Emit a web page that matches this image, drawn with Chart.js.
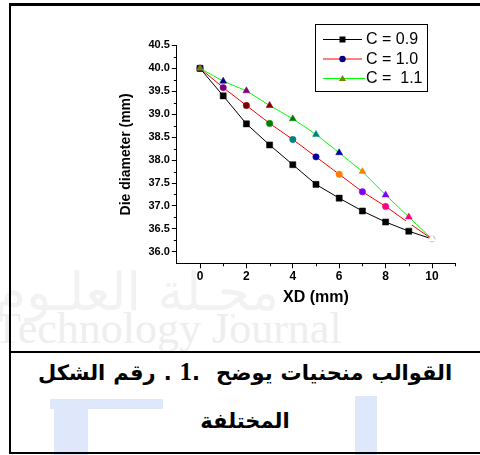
<!DOCTYPE html>
<html>
<head>
<meta charset="utf-8">
<script src="https://cdn.jsdelivr.net/npm/chart.js@4.4.1/dist/chart.umd.min.js"></script>
<style>
html,body{margin:0;padding:0;background:#fff;}
body{width:480px;height:455px;overflow:hidden;position:relative;font-family:Arial,"Liberation Sans",sans-serif;}
.abs{position:absolute;}
#wmAr{left:-6px;top:262px;font:52px "DejaVu Sans";color:#f2f2f2;white-space:nowrap;direction:rtl;}
#wmEn{left:-6px;top:303px;font:44px "Liberation Serif";color:#eeeeee;white-space:nowrap;}
.blue{background:#dfe7fb;}
#frame{left:9px;top:3px;width:480px;height:446px;border-left:2px solid #000;border-top:3px solid #000;border-bottom:2px solid #000;}
#divider{left:9px;top:351px;width:480px;height:2px;background:#000;}
#chart{left:0;top:0;}
.cap{left:10px;width:470px;display:flex;flex-direction:row;justify-content:center;align-items:baseline;font-weight:bold;font-family:"DejaVu Sans",sans-serif;font-size:21px;white-space:nowrap;color:#000;direction:ltr;}
.cap span{display:block;margin:0 4px;}
.cap span.num{font-family:"Liberation Serif",serif;font-size:25px;margin-right:0;}
.cap span.dot{margin-left:0;margin-right:12px;}
</style>
</head>
<body>
<div id="wmAr" class="abs">مجـلة العلـوم</div>
<div id="wmEn" class="abs">Technology Journal</div>
<div class="abs blue" style="left:50px;top:399px;width:113px;height:10px;"></div>
<div class="abs blue" style="left:54px;top:409px;width:34px;height:46px;"></div>
<div class="abs blue" style="left:355px;top:396px;width:22px;height:59px;"></div>
<div id="frame" class="abs"></div>
<div id="divider" class="abs"></div>
<div id="cap1" class="abs cap" style="top:356px;line-height:32px;">
<span>الشكل</span>
<span>رقم</span>
<span>.</span>
<span class="num">1</span>
<span class="dot">.</span>
<span>يوضح</span>
<span>منحنيات</span>
<span>القوالب</span>
</div>
<div id="cap2" class="abs cap" style="top:405px;line-height:32px;">
<span>المختلفة</span>
</div>
<canvas id="chart" class="abs" width="480" height="455"></canvas>
<script>
// ---- data ----
const xValues = [0, 1, 2, 3, 4, 5, 6, 7, 8, 9, 10];
const c09 = [40.00, 39.40, 38.79, 38.33, 37.90, 37.47, 37.17, 36.89, 36.65, 36.45, 36.28];
const c10 = [40.00, 39.58, 39.19, 38.80, 38.45, 38.07, 37.69, 37.31, 36.99, 36.63, 36.28];
const c11 = [40.00, 39.72, 39.51, 39.19, 38.90, 38.56, 38.16, 37.75, 37.24, 36.76, 36.28];
const seriesLabels = ['C = 0.9', 'C = 1.0', 'C =  1.1'];
const xTicks = [0, 2, 4, 6, 8, 10];
const xMinorTicks = [1, 3, 5, 7, 9, 11];
const yTicks = [36.0, 36.5, 37.0, 37.5, 38.0, 38.5, 39.0, 39.5, 40.0, 40.5];
const yMinorTicks = [36.25, 36.75, 37.25, 37.75, 38.25, 38.75, 39.25, 39.75, 40.25];
const xTitle = 'XD (mm)';
const yTitle = 'Die diameter (mm)';

// ---- styles ----
const lineColors = ['#000000', '#ff0000', '#00ff00'];
const pointShapes = ['rect', 'circle', 'triangle'];
const pointRadii = [4.3, 3.2, 4.0];
const sqColors = ['#000000','#000000','#000000','#000000','#000000','#000000','#000000','#000000','#000000','#000000','#ffffff'];
const ciColors = ['#000080','#800080','#800000','#008000','#008080','#0000a0','#ff8000','#8000ff','#ff0080','#ffffff','#c0c0c0'];
const trColors = ['#808000','#000080','#800080','#800000','#008000','#008080','#0000a0','#ff8000','#8000ff','#ff0080','#ffffff'];
const pointColorSets = [sqColors, ciColors, trColors];
const legendMarkerColors = ['#000000', '#000080', '#808000'];

const series = [c09, c10, c11];
const datasets = series.map((vals, i) => ({
  label: seriesLabels[i],
  data: xValues.map((x, j) => ({x: x, y: vals[j]})),
  borderColor: lineColors[i],
  borderWidth: 1,
  pointStyle: pointShapes[i],
  pointRadius: pointRadii[i],
  pointHoverRadius: pointRadii[i],
  pointBackgroundColor: pointColorSets[i],
  pointBorderColor: pointColorSets[i],
  pointBorderWidth: 0.5,
  tension: 0,
  fill: false,
  order: 3 - i
}));

const minorTicksPlugin = {
  id: 'minorTicks',
  afterDraw(chart) {
    const {ctx, scales: {x, y}} = chart;
    ctx.save();
    ctx.strokeStyle = '#000';
    ctx.lineWidth = 1;
    ctx.beginPath();
    xMinorTicks.forEach(v => {
      const px = Math.round(x.getPixelForValue(v)) + 0.5;
      ctx.moveTo(px, y.bottom);
      ctx.lineTo(px, y.bottom + 3);
    });
    yMinorTicks.forEach(v => {
      const py = Math.round(y.getPixelForValue(v)) + 0.5;
      ctx.moveTo(x.left, py);
      ctx.lineTo(x.left - 3, py);
    });
    ctx.stroke();
    ctx.restore();
  }
};

function drawMarker(ctx, shape, cx, cy, color) {
  ctx.fillStyle = color;
  ctx.beginPath();
  if (shape === 'rect') {
    ctx.rect(cx - 3, cy - 3, 6, 6);
  } else if (shape === 'circle') {
    ctx.arc(cx, cy, 3.2, 0, Math.PI * 2);
  } else {
    ctx.moveTo(cx, cy - 3.6);
    ctx.lineTo(cx + 3.6, cy + 2.6);
    ctx.lineTo(cx - 3.6, cy + 2.6);
    ctx.closePath();
  }
  ctx.fill();
}

const boxLegendPlugin = {
  id: 'boxLegend',
  afterDraw(chart) {
    const ctx = chart.ctx;
    const bx = 315.5, by = 24.5, bw = 112, bh = 67;
    ctx.save();
    ctx.strokeStyle = '#000';
    ctx.lineWidth = 1;
    ctx.strokeRect(bx, by, bw, bh);
    const rows = [39, 58.5, 78];
    ctx.font = '16px Arial, "Liberation Sans", sans-serif';
    ctx.textBaseline = 'middle';
    ctx.textAlign = 'left';
    chart.data.datasets.forEach((ds, i) => {
      const yy = rows[i] + 0.5;
      ctx.strokeStyle = ds.borderColor;
      ctx.beginPath();
      ctx.moveTo(323, yy);
      ctx.lineTo(i === 2 ? 365 : 362, yy);
      ctx.stroke();
      drawMarker(ctx, pointShapes[i], 342.5, yy, legendMarkerColors[i]);
      ctx.fillStyle = '#000';
      ctx.fillText(ds.label, 366, rows[i] + 1);
    });
    ctx.restore();
  }
};

new Chart(document.getElementById('chart'), {
  type: 'line',
  data: {datasets: datasets},
  plugins: [minorTicksPlugin, boxLegendPlugin],
  options: {
    responsive: false,
    animation: false,
    layout: {padding: {left: 0, right: 24.8, top: 45.4, bottom: 146.7}},
    plugins: {legend: {display: false}, tooltip: {enabled: false}},
    scales: {
      x: {
        type: 'linear',
        position: 'bottom',
        min: -1,
        max: 11,
        afterBuildTicks: s => { s.ticks = xTicks.map(v => ({value: v})); },
        afterFit: s => { s.height = 45; },
        ticks: {
          color: '#000',
          font: {family: 'Arial, "Liberation Sans", sans-serif', size: 12, weight: 'bold'},
          padding: 1,
          maxRotation: 0,
          autoSkip: false,
          callback: v => String(v)
        },
        grid: {drawOnChartArea: false, drawTicks: true, tickLength: 5, color: '#000', tickWidth: 1},
        border: {display: true, color: '#000', width: 1},
        title: {
          display: true, text: xTitle, color: '#000',
          font: {family: 'Arial, "Liberation Sans", sans-serif', size: 16, weight: 'bold'},
          padding: {top: 0, bottom: 1}
        }
      },
      y: {
        type: 'linear',
        position: 'left',
        min: 35.75,
        max: 40.5,
        afterBuildTicks: s => { s.ticks = yTicks.map(v => ({value: v})); },
        afterFit: s => { s.width = 176.8; },
        ticks: {
          color: '#000',
          font: {family: 'Arial, "Liberation Sans", sans-serif', size: 11, weight: 'bold'},
          padding: 2,
          autoSkip: false,
          callback: v => Number(v).toFixed(1)
        },
        grid: {drawOnChartArea: false, drawTicks: true, tickLength: 5, color: '#000', tickWidth: 1},
        border: {display: true, color: '#000', width: 1},
        title: {
          display: true, text: yTitle, color: '#000',
          font: {family: 'Arial, "Liberation Sans", sans-serif', size: 14, weight: 'bold'},
          padding: {top: 117.6, bottom: 0}
        }
      }
    }
  }
});
</script>
</body>
</html>
